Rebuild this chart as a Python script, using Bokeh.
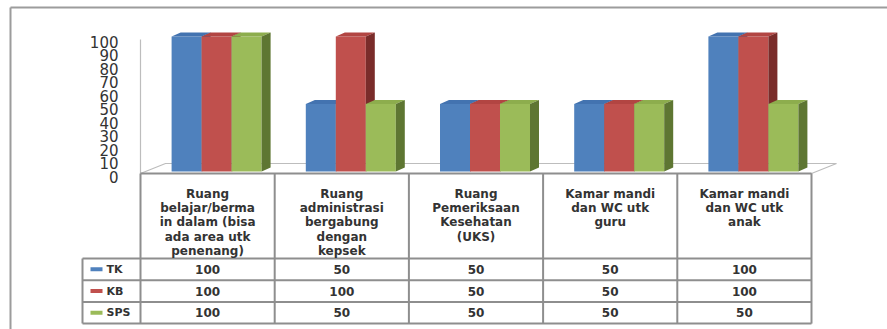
from bokeh.plotting import figure
from bokeh.models import Range1d
from bokeh.core.properties import value
from bokeh.embed import file_html
from bokeh.resources import INLINE

# ---- data ----
categories = [
    "Ruang\nbelajar/berma\nin dalam (bisa\nada area utk\npenenang)",
    "Ruang\nadministrasi\nbergabung\ndengan\nkepsek",
    "Ruang\nPemeriksaan\nKesehatan\n(UKS)",
    "Kamar mandi\ndan WC utk\nguru",
    "Kamar mandi\ndan WC utk\nanak",
]
series_names = ["TK", "KB", "SPS"]
tk = [100, 50, 50, 50, 100]
kb = [100, 100, 50, 50, 100]
sps = [100, 50, 50, 50, 50]
y_ticks = [0, 10, 20, 30, 40, 50, 60, 70, 80, 90, 100]

series = [tk, kb, sps]
front = ["#4F81BD", "#C0504D", "#9BBB59"]
topc = ["#4373B0", "#B24542", "#8DAD4D"]
side = ["#355C8C", "#7A2C2A", "#5E7632"]

# ---- layout (pixel space) ----
W, H = 887, 329
table_left = 140
col_w = 134.2
legend_left = 82
header_top = 173
header_bottom = 258
row_h = 21.7
zero_px = 171.0
px_per_unit = 1.35
bar_w = 30.0
depth_dx = 9.0
depth_dy = 4.0
cluster_shift = 9.0

p = figure(width=W, height=H, output_backend="svg", toolbar_location=None,
           tools="", min_border=0, outline_line_color=None,
           x_range=Range1d(0, W), y_range=Range1d(H, 0))
p.xaxis.visible = False
p.yaxis.visible = False
p.grid.visible = False
p.background_fill_color = "white"
p.border_fill_color = "white"

# value range for bars: pixel zero_px -> 0
p.extra_y_ranges = {"val": Range1d(start=(zero_px - H) / px_per_unit,
                                   end=zero_px / px_per_unit)}

n = len(categories)
col_edges = [table_left + col_w * i for i in range(n + 1)]
col_centers = [table_left + col_w * (i + 0.5) for i in range(n)]

# outer chart border (top and left visible)
p.segment(x0=[10, 10], y0=[7, 7], x1=[W, 10], y1=[7, H],
          line_color="#9C9C9C", line_width=2)

# back wall line and floor
p.segment(x0=[table_left], y0=[39], x1=[table_left], y1=[header_top],
          line_color="#BDBDBD", line_width=1.2)
floor_dx, floor_dy = 25, 10
p.patch(x=[table_left, col_edges[-1], col_edges[-1] + floor_dx, table_left + floor_dx],
        y=[header_top, header_top, header_top - floor_dy, header_top - floor_dy],
        fill_color="white", line_color="#BDBDBD", line_width=1.2)

# 3D columns
dyv = depth_dy / px_per_unit
for ci in range(n):
    cx = col_centers[ci] + cluster_shift
    for si, vals in enumerate(series):
        v = vals[ci]
        xl = cx - 1.5 * bar_w + si * bar_w
        xr = xl + bar_w
        # front face
        p.quad(left=[xl], right=[xr], bottom=[0], top=[v], y_range_name="val",
               fill_color=front[si], line_color=None)
        # top face
        p.patch(x=[xl, xr, xr + depth_dx, xl + depth_dx],
                y=[v, v, v + dyv, v + dyv], y_range_name="val",
                fill_color=topc[si], line_color=None)
        # side face
        p.patch(x=[xr, xr + depth_dx, xr + depth_dx, xr],
                y=[0, dyv, v + dyv, v], y_range_name="val",
                fill_color=side[si], line_color=None)

# y tick labels
p.text(x=[118] * len(y_ticks), y=y_ticks, text=[str(t) for t in y_ticks],
       y_range_name="val", y_offset=5, text_align="right",
       text_baseline="middle", text_font=value("DejaVu Sans"),
       text_font_size="15px", text_color="#333333")

# data table grid
row_tops = [header_bottom + row_h * i for i in range(len(series) + 1)]
grid_col = "#8E8E8E"
# horizontal lines
p.segment(x0=[table_left], y0=[header_top], x1=[col_edges[-1]], y1=[header_top],
          line_color=grid_col, line_width=2)
p.segment(x0=[legend_left] * len(row_tops), y0=row_tops,
          x1=[col_edges[-1]] * len(row_tops), y1=row_tops,
          line_color=grid_col, line_width=2)
# vertical lines
p.segment(x0=col_edges, y0=[header_top] * len(col_edges),
          x1=col_edges, y1=[row_tops[-1]] * len(col_edges),
          line_color=grid_col, line_width=2)
p.segment(x0=[legend_left], y0=[header_bottom], x1=[legend_left], y1=[row_tops[-1]],
          line_color=grid_col, line_width=2)

# category headers
p.text(x=col_centers, y=[header_top + 13] * n, text=categories,
       text_align="center", text_baseline="top", text_line_height=1.03,
       text_font=value("DejaVu Sans"), text_font_style="bold",
       text_font_size="12px", text_color="#333333")

# legend keys and names
row_centers = [header_bottom + row_h * (i + 0.5) for i in range(len(series))]
p.quad(left=[90] * 3, right=[102] * 3,
       bottom=[y + 2 for y in row_centers], top=[y - 2 for y in row_centers],
       fill_color=front, line_color=None)
p.text(x=[106] * 3, y=row_centers, text=series_names, text_align="left",
       text_baseline="middle", text_font=value("DejaVu Sans"),
       text_font_style="bold", text_font_size="11px", text_color="#333333")

# table values
for si, vals in enumerate(series):
    p.text(x=col_centers, y=[row_centers[si]] * n, text=[str(v) for v in vals],
           text_align="center", text_baseline="middle",
           text_font=value("DejaVu Sans"), text_font_style="bold",
           text_font_size="12px", text_color="#333333")

open("out.html", "w").write(file_html(p, INLINE))
